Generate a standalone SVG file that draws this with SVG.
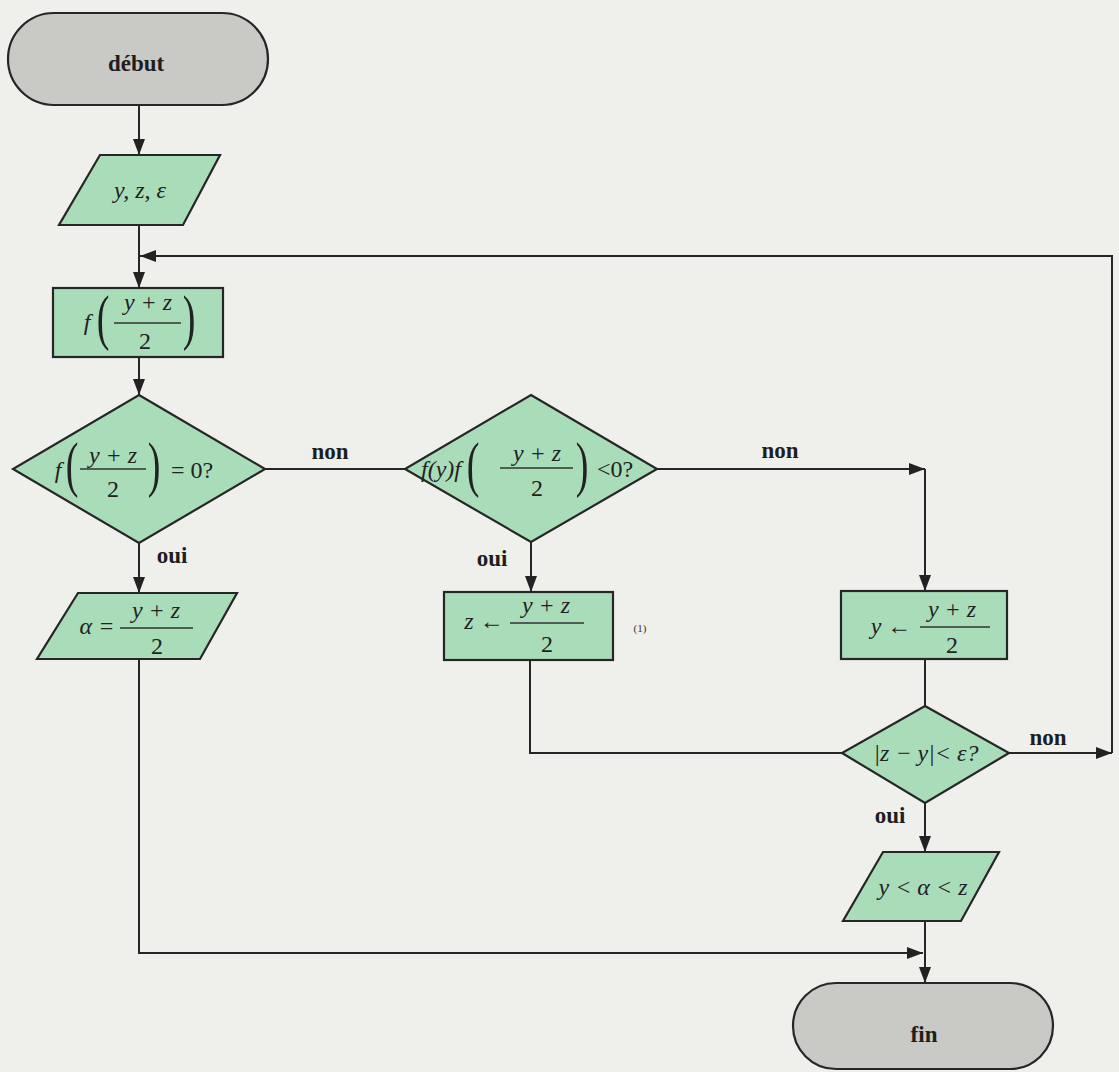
<svg xmlns="http://www.w3.org/2000/svg" width="1119" height="1072" viewBox="0 0 1119 1072">
<defs>
<marker id="ah" markerWidth="16" markerHeight="12" refX="16" refY="6" orient="auto" markerUnits="userSpaceOnUse"><path d="M0,0 L16,6 L0,12 z" fill="#222"/></marker>
<style>
.sh{stroke:#262626;stroke-width:2.2;}
.gr{fill:#a9dcb9;}
.gy{fill:#c9c9c6;}
.c{fill:none;stroke:#262626;stroke-width:2;}
.lbl{font-family:"Liberation Serif",serif;font-weight:bold;font-size:23px;fill:#1e1e1e;}
.m{font-family:"Liberation Serif",serif;font-style:italic;font-size:24px;fill:#222;}
.n{font-family:"Liberation Serif",serif;font-size:24px;fill:#222;}
.p{font-family:"Liberation Serif",serif;font-size:38px;fill:#222;text-anchor:middle;}
.bar{stroke:#333;stroke-width:1.4;}
</style>
</defs>
<rect x="0" y="0" width="1119" height="1072" fill="#eff0eb"/>

<g id="connectors">
<path class="c" d="M139,105 V155" marker-end="url(#ah)"/>
<path class="c" d="M139,225 V288" marker-end="url(#ah)"/>
<path class="c" d="M139,357 V395" marker-end="url(#ah)"/>
<path class="c" d="M139,543 V593" marker-end="url(#ah)"/>
<path class="c" d="M265,469 H405"/>
<path class="c" d="M657,469 H925" marker-end="url(#ah)"/>
<path class="c" d="M925,469 V591" marker-end="url(#ah)"/>
<path class="c" d="M531,542 V592" marker-end="url(#ah)"/>
<path class="c" d="M530,660 V753 H842"/>
<path class="c" d="M925,659 V706"/>
<path class="c" d="M1009,753 H1112" marker-end="url(#ah)"/>
<path class="c" d="M1112,753 V256 H140" marker-end="url(#ah)"/>
<path class="c" d="M925,803 V852" marker-end="url(#ah)"/>
<path class="c" d="M925,921 V983" marker-end="url(#ah)"/>
<path class="c" d="M139,659 V953 H923" marker-end="url(#ah)"/>
<text class="lbl" x="330" y="459" text-anchor="middle">non</text>
<text class="lbl" x="780" y="458" text-anchor="middle">non</text>
<text class="lbl" x="1048" y="745" text-anchor="middle">non</text>
<text class="lbl" x="172" y="563" text-anchor="middle">oui</text>
<text class="lbl" x="492" y="566" text-anchor="middle">oui</text>
<text class="lbl" x="890" y="823" text-anchor="middle">oui</text>
<text x="640" y="632" font-family="Liberation Serif,serif" font-size="11" fill="#333" text-anchor="middle">(1)</text>
</g>

<g id="debut">
<rect class="sh gy" x="8" y="13" width="260" height="92" rx="46" ry="46"/>
<text class="lbl" x="136" y="71" text-anchor="middle" font-size="26">début</text>
</g>

<g id="input">
<polygon class="sh gr" points="100,155 220,155 183,225 59,225"/>
<text class="m" x="140" y="198" text-anchor="middle">y, z, ε</text>
</g>

<g id="compute">
<rect class="sh gr" x="53" y="288" width="170" height="69"/>
<text class="m" x="87" y="330" text-anchor="middle">f</text>
<text class="p" transform="translate(103,338) scale(1,1.6)">(</text>
<text class="m" x="148" y="310" text-anchor="middle">y + z</text>
<line class="bar" x1="114" y1="323" x2="181" y2="323"/>
<text class="n" x="145" y="349" text-anchor="middle">2</text>
<text class="p" transform="translate(189,338) scale(1,1.6)">)</text>
</g>

<g id="test1">
<polygon class="sh gr" points="139,395 265,469 139,543 13,469"/>
<text class="m" x="58" y="478" text-anchor="middle">f</text>
<text class="p" transform="translate(72,485) scale(1,1.6)">(</text>
<text class="m" x="113" y="463" text-anchor="middle">y + z</text>
<line class="bar" x1="80" y1="469" x2="146" y2="469"/>
<text class="n" x="113" y="497" text-anchor="middle">2</text>
<text class="p" transform="translate(154,485) scale(1,1.6)">)</text>
<text class="n" x="192" y="478" text-anchor="middle">= 0?</text>
</g>

<g id="test2">
<polygon class="sh gr" points="531,395 657,469 531,542 405,469"/>
<text class="m" x="441" y="477" text-anchor="middle" font-size="22">f(y)f</text>
<text class="p" transform="translate(473,485) scale(1,1.6)">(</text>
<text class="m" x="537" y="461" text-anchor="middle">y + z</text>
<line class="bar" x1="500" y1="468" x2="573" y2="468"/>
<text class="n" x="537" y="496" text-anchor="middle">2</text>
<text class="p" transform="translate(582,485) scale(1,1.6)">)</text>
<text class="n" x="615" y="477" text-anchor="middle">&lt;0?</text>
</g>

<g id="alpha">
<polygon class="sh gr" points="78,593 237,593 200,659 37,659"/>
<text class="m" x="97" y="634" text-anchor="middle">α =</text>
<text class="m" x="156" y="618" text-anchor="middle">y + z</text>
<line class="bar" x1="120" y1="628" x2="193" y2="628"/>
<text class="n" x="157" y="654" text-anchor="middle">2</text>
</g>

<g id="setz">
<rect class="sh gr" x="444" y="592" width="169" height="68"/>
<text class="m" x="484" y="629" text-anchor="middle">z ←</text>
<text class="m" x="546" y="613" text-anchor="middle">y + z</text>
<line class="bar" x1="510" y1="623" x2="584" y2="623"/>
<text class="n" x="547" y="652" text-anchor="middle">2</text>
</g>

<g id="sety">
<rect class="sh gr" x="841" y="591" width="166" height="68"/>
<text class="m" x="891" y="634" text-anchor="middle">y ←</text>
<text class="m" x="952" y="617" text-anchor="middle">y + z</text>
<line class="bar" x1="920" y1="627" x2="990" y2="627"/>
<text class="n" x="952" y="653" text-anchor="middle">2</text>
</g>

<g id="test3">
<polygon class="sh gr" points="925,706 1009,753 925,803 842,753"/>
<text class="m" x="926" y="761" text-anchor="middle" font-size="22">|z − y|&lt; ε?</text>
</g>

<g id="result">
<polygon class="sh gr" points="883,852 999,852 961,921 843,921"/>
<text class="m" x="923" y="895" text-anchor="middle">y &lt; α &lt; z</text>
</g>

<g id="fin">
<rect class="sh gy" x="793" y="983" width="260" height="86" rx="43" ry="43"/>
<text class="lbl" x="924" y="1042" text-anchor="middle" font-size="26">fin</text>
</g>
</svg>
